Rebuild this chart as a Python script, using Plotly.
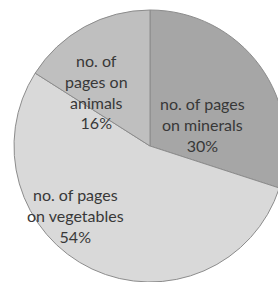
import plotly.graph_objects as go

labels = ["no. of pages on minerals", "no. of pages on vegetables", "no. of pages on animals"]
values = [30, 54, 16]
text_labels = ["no. of pages<br>on minerals<br>30%", "no. of pages<br>on vegetables<br>54%", "no. of<br>pages on<br>animals<br>16%"]
colors = ["#a6a6a6", "#d9d9d9", "#bfbfbf"]
# label block centres in pixels (x, y from top)
label_pos = [(202.5, 125), (75, 215.5), (97, 91.5)]

W, H = 300, 282
cx, cy, r = 150, 146, 136

fig = go.Figure(go.Pie(
    labels=labels,
    values=values,
    textinfo="none",
    sort=False,
    direction="clockwise",
    rotation=0,
    marker=dict(colors=colors, line=dict(color="#8c8c8c", width=1)),
    showlegend=False,
    hoverinfo="label+percent",
    domain=dict(x=[(cx - r) / W, (cx + r) / W], y=[(H - cy - r) / H, (H - cy + r) / H]),
))
for txt, (px, py) in zip(text_labels, label_pos):
    fig.add_annotation(
        text=txt, x=px / W, y=1 - py / H, xref="paper", yref="paper",
        xanchor="center", yanchor="middle", showarrow=False, align="center",
        font=dict(family="Lato", size=16, color="#383838"),
    )
fig.update_layout(
    width=W, height=H, autosize=False,
    margin=dict(l=0, r=0, t=0, b=0),
    paper_bgcolor="white", plot_bgcolor="white",
)
fig.write_html(
    "out.html",
    config={"displayModeBar": False},
    post_script="document.body.style.margin='0';document.body.style.overflow='hidden';document.documentElement.style.overflow='hidden';",
)
